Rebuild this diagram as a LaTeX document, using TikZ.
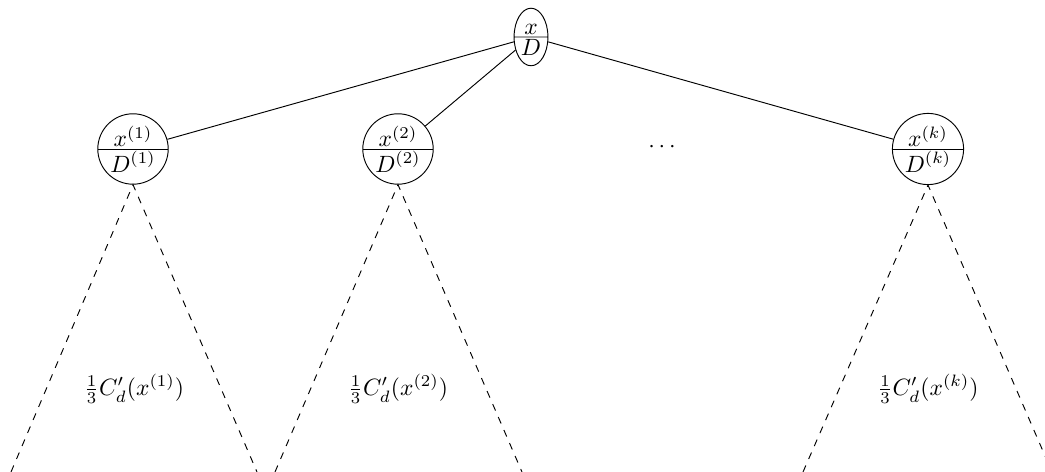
\documentclass[tikz,border=0pt]{standalone}
\usetikzlibrary{shapes.multipart,shapes.geometric}
\begin{document}
\begin{tikzpicture}[x=0.4243pt,y=-0.4243pt,
  rootnode/.style={ellipse split,draw,inner sep=0.8pt,minimum width=13.6pt,minimum height=21.6pt},
  childnode/.style={circle split,draw,inner sep=0.8pt,minimum size=29.7pt},
  cone/.style={dashed},
  conelabel/.style={}]
\useasboundingbox (0,0) rectangle (1045,472);
\node[rootnode] (r) at (531,37) {$x$\nodepart{lower}$D$};
\node[childnode] (c1) at (133,149) {$x^{(1)}$\nodepart{lower}$D^{(1)}$};
\node[childnode] (c2) at (398,149) {$x^{(2)}$\nodepart{lower}$D^{(2)}$};
\node[childnode] (ck) at (928,149) {$x^{(k)}$\nodepart{lower}$D^{(k)}$};
\node (dots) at (662,147) {$\cdots$};
\draw (r) -- (c1);
\draw (r) -- (c2);
\draw (r) -- (ck);
\coordinate (l1) at (11,472);
\coordinate (r1) at (257,472);
\coordinate (l2) at (275,472);
\coordinate (r2) at (522,472);
\coordinate (lk) at (803,472);
\coordinate (rk) at (1052,472);
\draw[cone] (l1) -- (c1.south) -- (r1);
\draw[cone] (l2) -- (c2.south) -- (r2);
\draw[cone] (lk) -- (ck.south) -- (rk);
\node[conelabel] (t1) at (134,389) {$\frac{1}{3}C'_d(x^{(1)})$};
\node[conelabel] (t2) at (398,389) {$\frac{1}{3}C'_d(x^{(2)})$};
\node[conelabel] (tk) at (928,389) {$\frac{1}{3}C'_d(x^{(k)})$};
\end{tikzpicture}
\end{document}
